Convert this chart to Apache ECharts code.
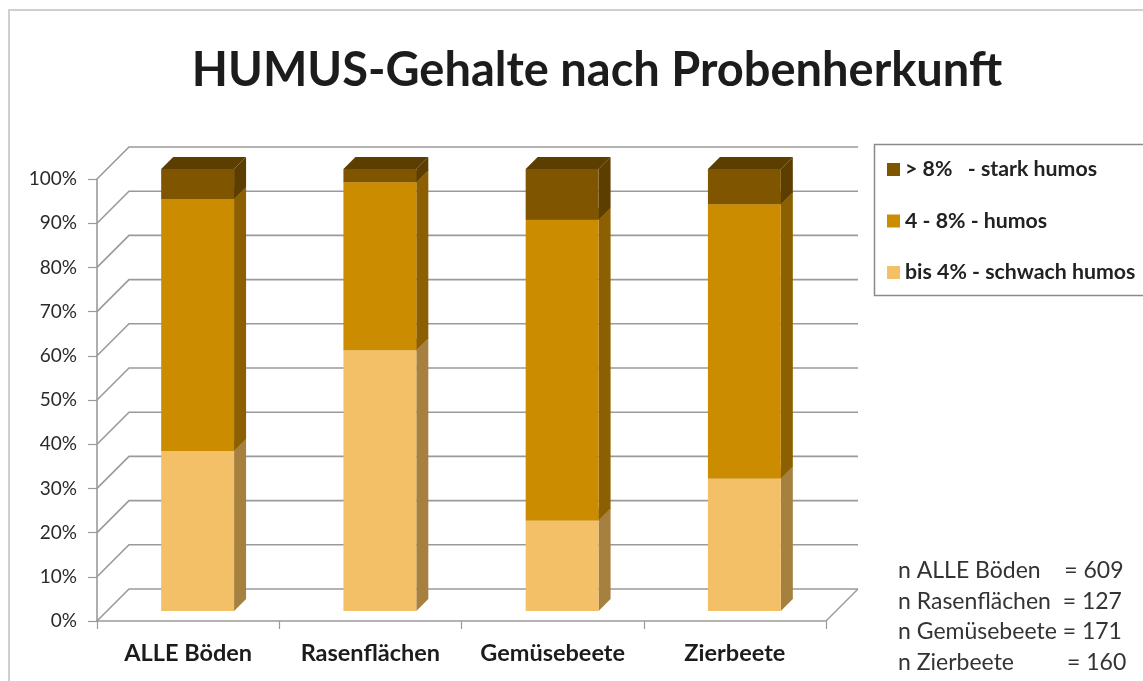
<!DOCTYPE html>
<html><head><meta charset="utf-8">
<style>html,body{margin:0;padding:0;background:#fff}#c{width:1143px;height:681px}</style>
<script src="https://cdn.jsdelivr.net/npm/echarts@6/dist/echarts.min.js"></script>
</head><body><div id="c"></div>
<script>
const categories = ['ALLE Böden','Rasenflächen','Gemüsebeete','Zierbeete'];
const schwach = [36.2, 59, 20.5, 30];
const humos = [57, 38, 68, 62];
const stark = [6.8, 3, 11.5, 8];
const yTicks = [0,10,20,30,40,50,60,70,80,90,100];
const sampleLines = ['n ALLE Böden    = 609','n Rasenflächen  = 127','n Gemüsebeete = 171','n Zierbeete         = 160'];
const titleText = 'HUMUS-Gehalte nach Probenherkunft';
const nameStark = '> 8%   - stark humos', nameHumos = '4 - 8% - humos', nameSchwach = 'bis 4% - schwach humos';

const FONT = 'Lato';
const WALL_X = 32, WALL_Y = 32, RIGHT_END = 858;
const FLOOR = 10, DEPTH = 12;

function gridItem(params, api){
  const v = api.value(0);
  const x0 = params.coordSys.x;
  const y = api.coord([0, v])[1];
  const points = [[x0, y],[x0+WALL_X, y-WALL_Y],[RIGHT_END, y-WALL_Y]];
  const children = [{type:'polyline', shape:{points}, style:{fill:null, stroke:'#9a9a9a', lineWidth:1.6}}];
  if (v === 0) {
    children.push({type:'line', shape:{x1:x0+params.coordSys.width, y1:y, x2:RIGHT_END, y2:y-WALL_Y}, style:{stroke:'#9a9a9a', lineWidth:1.4}});
  }
  return {type:'group', children};
}
function barItem(colors){
  return function(params, api){
    const c = api.value(0), s = api.value(1), e = api.value(2);
    const w = api.size([1,0])[0]*0.4;
    const xc = api.coord([c,0])[0] + FLOOR - 0.5;
    const x0 = xc - w/2, x1 = xc + w/2;
    const y0 = api.coord([c,s])[1] - FLOOR, y1 = api.coord([c,e])[1] - FLOOR;
    return {type:'group', children:[
      {type:'polygon', shape:{points:[[x0,y1],[x1,y1],[x1+DEPTH,y1-DEPTH],[x0+DEPTH,y1-DEPTH]]}, style:{fill:colors.top}},
      {type:'polygon', shape:{points:[[x1,y0],[x1+DEPTH,y0-DEPTH],[x1+DEPTH,y1-DEPTH],[x1,y1]]}, style:{fill:colors.side}},
      {type:'rect', shape:{x:x0,y:y1,width:w,height:y0-y1}, style:{fill:colors.front}}
    ]};
  };
}
function stackData(vals, base){
  return vals.map((v,i)=>[i, base[i], base[i]+v]);
}
const base0 = categories.map(()=>0);
const base1 = schwach.slice();
const base2 = schwach.map((v,i)=>v+humos[i]);
function barSeries(name, vals, base, colors){
  return {type:'custom', name, data:stackData(vals,base), renderItem:barItem(colors), clip:false, z:5,
    itemStyle:{color:colors.front}, encode:{x:0,y:[1,2]}, silent:true};
}

const chart = echarts.init(document.getElementById('c'));
chart.setOption({
  animation:false,
  backgroundColor:'#fff',
  title:{text:titleText, left:592, top:42, textAlign:'center',
    textStyle:{fontFamily:FONT, fontWeight:'bold', fontSize:47, color:'#1c1c1c'}},
  grid:{left:97, top:179, width:729, height:442, containLabel:false},
  xAxis:{type:'category', data:categories,
    axisLine:{lineStyle:{color:'#9a9a9a',width:1.6}},
    axisTick:{show:true, length:8, alignWithLabel:false, lineStyle:{color:'#9a9a9a',width:1.2}},
    axisLabel:{margin:20, interval:0, fontFamily:FONT, fontWeight:'bold', fontSize:23.5, color:'#1c1c1c'},
    splitLine:{show:false}},
  yAxis:{type:'value', min:0, max:100, interval:10,
    axisLine:{show:true, lineStyle:{color:'#9a9a9a',width:1.6}},
    axisTick:{show:true, length:9, lineStyle:{color:'#9a9a9a',width:1.2}},
    axisLabel:{margin:20, formatter:'{value}%', fontFamily:FONT, fontSize:19, color:'#2a2a2a', padding:[2,0,0,0]},
    splitLine:{show:false}},
  legend:{left:887, top:159, orient:'vertical', itemWidth:13, itemHeight:13, itemGap:30.5, padding:0,
    icon:'rect', data:[nameStark,nameHumos,nameSchwach], selectedMode:false,
    textStyle:{fontFamily:FONT, fontWeight:'bold', fontSize:21.3, lineHeight:20, color:'#222', padding:[0,0,0,0]}},
  graphic:[
    {type:'rect', shape:{x:9,y:10,width:1160,height:690}, style:{fill:null, stroke:'#cfcfcf', lineWidth:2}, silent:true, z:0},
    {type:'rect', shape:{x:874.5,y:144.5,width:290,height:151}, style:{fill:'#fff', stroke:'#8a8a8a', lineWidth:1.5}, silent:true, z:1},
    ...sampleLines.map((t,i)=>({type:'text', x:898, y:571+i*30.5, z:6, style:{text:t, fontFamily:FONT, fontSize:23, fill:'#333', verticalAlign:'middle', align:'left'}}))
  ],
  series:[
    {type:'custom', name:'grid', data:yTicks.map(v=>[v]), renderItem:gridItem, clip:false, z:1, silent:true, encode:{y:0}},
    barSeries(nameSchwach, schwach, base0, {front:'#f3c068', side:'#a5803f', top:'#c29a50'}),
    barSeries(nameHumos, humos, base1, {front:'#cc8c00', side:'#8c6000', top:'#8c6000'}),
    barSeries(nameStark, stark, base2, {front:'#7f5500', side:'#5c3e00', top:'#5c3e00'})
  ]
});
</script></body></html>
